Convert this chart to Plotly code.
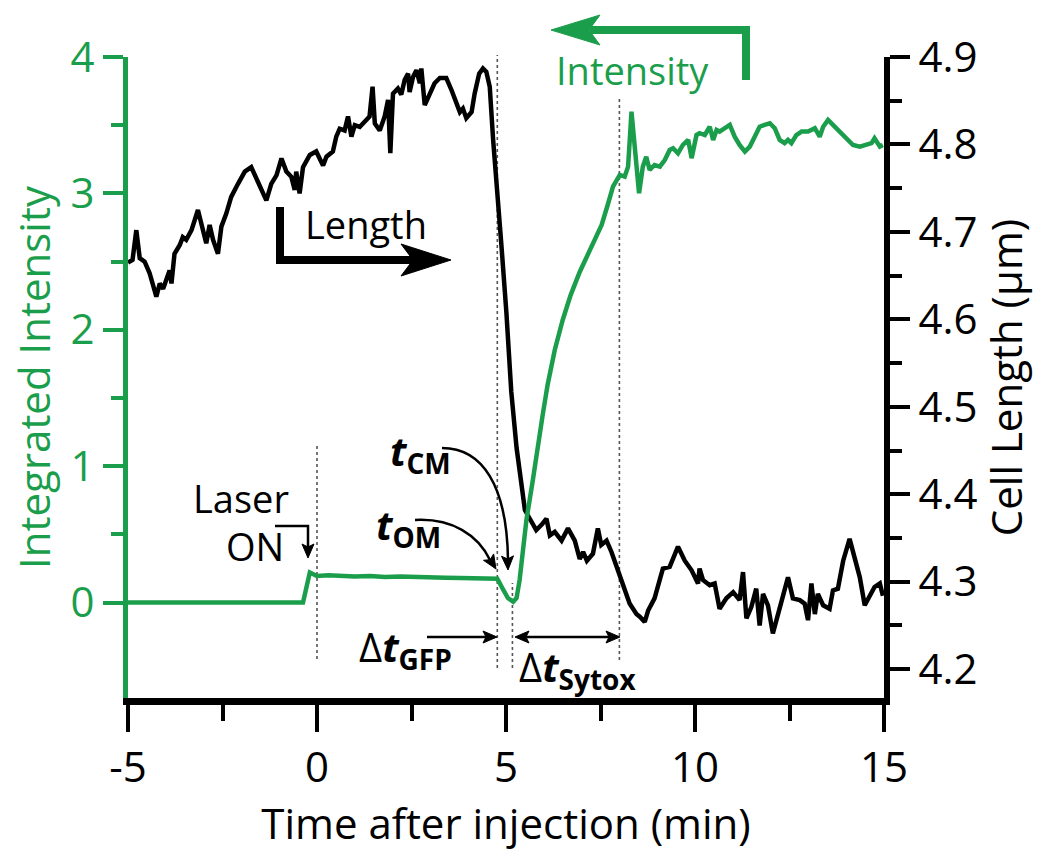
import math
import plotly.graph_objects as go

# ---------------- data ----------------
time_length = [-5.00, -4.88, -4.78, -4.69, -4.56, -4.43, -4.25, -4.16, -4.07, -3.98,
               -3.90, -3.85, -3.77, -3.63, -3.55, -3.46, -3.32, -3.15, -3.02, -2.93,
               -2.84, -2.75, -2.62, -2.53, -2.40, -2.27, -2.09, -1.91, -1.74, -1.60,
               -1.47, -1.34, -1.21, -1.07, -0.94, -0.81, -0.68, -0.59, -0.55, -0.46,
               -0.37, -0.19, -0.02, 0.16, 0.25, 0.42, 0.51, 0.60, 0.73, 0.82,
               0.91, 1.00, 1.13, 1.26, 1.39, 1.47, 1.53, 1.66, 1.79, 1.88,
               1.94, 2.01, 2.14, 2.23, 2.32, 2.41, 2.45, 2.54, 2.63, 2.72,
               2.76, 2.85, 2.98, 3.11, 3.25, 3.42, 3.56, 3.69, 3.78, 3.86,
               3.95, 4.09, 4.17, 4.29, 4.39, 4.48, 4.57, 4.66, 4.75, 4.88,
               5.01, 5.14, 5.28, 5.41, 5.50, 5.63, 5.80, 5.94, 6.07, 6.16,
               6.29, 6.47, 6.64, 6.82, 6.95, 7.04, 7.14, 7.30, 7.43, 7.52,
               7.66, 7.79, 7.92, 8.10, 8.27, 8.45, 8.54, 8.67, 8.76, 8.93,
               9.15, 9.33, 9.55, 9.73, 9.91, 10.08, 10.12, 10.21, 10.39, 10.52,
               10.65, 10.83, 11.01, 11.18, 11.27, 11.36, 11.49, 11.62, 11.71, 11.80,
               11.93, 12.06, 12.24, 12.46, 12.59, 12.77, 12.90, 12.99, 13.08, 13.17,
               13.25, 13.39, 13.56, 13.65, 13.78, 13.92, 14.09, 14.23, 14.36, 14.49,
               14.62, 14.75, 14.89, 14.97]
cell_length = [4.665, 4.668, 4.702, 4.670, 4.666, 4.653, 4.626, 4.641, 4.635, 4.645,
               4.656, 4.641, 4.675, 4.685, 4.694, 4.691, 4.702, 4.725, 4.702, 4.687,
               4.708, 4.691, 4.675, 4.706, 4.721, 4.740, 4.755, 4.769, 4.774, 4.761,
               4.748, 4.736, 4.755, 4.765, 4.784, 4.769, 4.763, 4.748, 4.769, 4.744,
               4.774, 4.788, 4.792, 4.776, 4.786, 4.792, 4.809, 4.818, 4.816, 4.832,
               4.809, 4.822, 4.820, 4.826, 4.832, 4.866, 4.824, 4.816, 4.832, 4.851,
               4.790, 4.858, 4.864, 4.857, 4.874, 4.881, 4.860, 4.877, 4.885, 4.870,
               4.887, 4.845, 4.857, 4.870, 4.876, 4.876, 4.862, 4.847, 4.837, 4.841,
               4.830, 4.837, 4.858, 4.881, 4.887, 4.883, 4.866, 4.805, 4.759, 4.684,
               4.608, 4.517, 4.453, 4.410, 4.382, 4.372, 4.359, 4.365, 4.372, 4.353,
               4.357, 4.347, 4.361, 4.347, 4.326, 4.334, 4.324, 4.332, 4.361, 4.342,
               4.347, 4.334, 4.317, 4.294, 4.275, 4.263, 4.260, 4.254, 4.267, 4.281,
               4.315, 4.317, 4.340, 4.324, 4.313, 4.298, 4.315, 4.302, 4.296, 4.298,
               4.269, 4.281, 4.288, 4.279, 4.311, 4.258, 4.271, 4.292, 4.250, 4.286,
               4.273, 4.241, 4.271, 4.305, 4.281, 4.279, 4.275, 4.256, 4.298, 4.263,
               4.286, 4.273, 4.269, 4.290, 4.292, 4.324, 4.349, 4.324, 4.305, 4.273,
               4.283, 4.294, 4.298, 4.284]

time_intensity = [-5.00, -0.37, -0.19, 0.00, 0.30, 0.60, 1.00, 1.40, 1.80, 2.20,
                  2.60, 3.00, 3.40, 3.80, 4.20, 4.60, 4.77, 4.93, 5.05, 5.19,
                  5.28, 5.36, 5.54, 5.71, 5.84, 5.97, 6.10, 6.29, 6.50, 6.71,
                  6.95, 7.16, 7.37, 7.53, 7.69, 7.83, 8.01, 8.14, 8.23, 8.32,
                  8.52, 8.62, 8.71, 8.80, 8.93, 9.07, 9.20, 9.33, 9.42, 9.55,
                  9.68, 9.82, 9.91, 10.04, 10.12, 10.26, 10.39, 10.48, 10.57, 10.65,
                  10.79, 10.92, 11.05, 11.18, 11.32, 11.45, 11.58, 11.71, 11.84, 11.98,
                  12.11, 12.24, 12.37, 12.46, 12.55, 12.68, 12.82, 12.99, 13.17, 13.30,
                  13.39, 13.52, 13.65, 13.83, 14.01, 14.18, 14.36, 14.53, 14.67, 14.75,
                  14.89, 14.97]
intensity = [0, 0, 0.22, 0.194, 0.20, 0.195, 0.19, 0.195, 0.188, 0.19,
             0.185, 0.188, 0.182, 0.18, 0.178, 0.175, 0.175, 0.092, 0.033, 0.006,
             0.033, 0.165, 0.605, 0.898, 1.155, 1.375, 1.595, 1.852, 2.072, 2.254,
             2.424, 2.548, 2.658, 2.768, 2.915, 3.049, 3.135, 3.123, 3.196, 3.599,
             3.001, 3.196, 3.269, 3.172, 3.208, 3.196, 3.245, 3.318, 3.331, 3.294,
             3.355, 3.392, 3.258, 3.428, 3.441, 3.428, 3.489, 3.392, 3.465, 3.453,
             3.478, 3.502, 3.416, 3.355, 3.306, 3.343, 3.416, 3.489, 3.502, 3.514,
             3.478, 3.392, 3.368, 3.392, 3.368, 3.428, 3.453, 3.453, 3.478, 3.416,
             3.489, 3.538, 3.502, 3.453, 3.404, 3.355, 3.343, 3.355, 3.368, 3.404,
             3.343, 3.355]

x_ticks = [-5, 0, 5, 10, 15]
x_tick_labels = ["-5", "0", "5", "10", "15"]
x_minor_ticks = [-2.5, 2.5, 7.5, 12.5]
intensity_ticks = [0, 1, 2, 3, 4]
intensity_minor_ticks = [0.5, 1.5, 2.5, 3.5]
length_ticks = [4.2, 4.3, 4.4, 4.5, 4.6, 4.7, 4.8, 4.9]
length_minor_ticks = [4.25, 4.35, 4.45, 4.55, 4.65, 4.75, 4.85]
event_times = [0.0, 4.77, 5.17, 8.0]   # Laser ON, t_OM, t_CM, Sytox

# ---------------- style ----------------
GREEN = "#1b9e4b"
BLACK = "#000000"
FONT = "Open Sans"
W, H = 1050, 859
ML, MR, MT, MB = 128, 166, 57, 161
PW, PH = W - ML - MR, H - MT - MB


def P(x, y):
    """pixel position -> paper coordinate string"""
    return f"{(x - ML) / PW:.5f},{(H - MB - y) / PH:.5f}"


def px(x):
    return (x - ML) / PW


def py(y):
    return (H - MB - y) / PH


def head(tx, ty, ang, length, half, notch):
    dx, dy = math.cos(ang), math.sin(ang)
    nx, ny = -dy, dx
    bx, by = tx - dx * length, ty - dy * length
    p1 = (bx + nx * half, by + ny * half)
    p2 = (tx - dx * (length - notch), ty - dy * (length - notch))
    p3 = (bx - nx * half, by - ny * half)
    return f"M {P(tx, ty)} L {P(*p1)} L {P(*p2)} L {P(*p3)} Z"


fig = go.Figure()
fig.add_trace(go.Scatter(x=time_length, y=cell_length, mode="lines",
                         line=dict(color=BLACK, width=4.5), yaxis="y",
                         name="Length", showlegend=False))
fig.add_trace(go.Scatter(x=time_intensity, y=intensity, mode="lines",
                         line=dict(color=GREEN, width=4.5), yaxis="y2",
                         name="Intensity", showlegend=False))

shapes = []
# dotted event lines
event_spans = [(443, 659), (55, 668), (583, 668), (98, 660)]
for t, (y0, y1) in zip(event_times, event_spans):
    shapes.append(dict(type="line", xref="x", yref="paper", x0=t, x1=t,
                       y0=py(y1), y1=py(y0),
                       line=dict(color="#555555", width=1.6, dash="dot"), layer="below"))


def path(d, color, width):
    shapes.append(dict(type="path", xref="paper", yref="paper", path=d,
                       line=dict(color=color, width=width)))


def filled(d, color):
    shapes.append(dict(type="path", xref="paper", yref="paper", path=d,
                       fillcolor=color, line=dict(color=color, width=1)))


# Length bent arrow
path(f"M {P(280, 207)} L {P(280, 260)} L {P(415, 260)}", BLACK, 8)
filled(head(451, 260, 0, 50, 16, 12), BLACK)
# Intensity bent arrow
path(f"M {P(746, 80)} L {P(746, 30)} L {P(590, 30)}", GREEN, 8)
filled(head(551, 30, math.pi, 49, 15, 11), GREEN)
# Laser ON arrow
path(f"M {P(275, 526)} L {P(308, 526)} L {P(308, 548)}", BLACK, 2.5)
filled(head(308, 558, math.pi / 2, 14, 6, 3), BLACK)
# t_CM arrow
path(f"M {P(442, 448)} C {P(482, 448)} {P(507, 485)} {P(508, 560)}", BLACK, 2.5)
filled(head(508, 570, math.radians(88), 14, 6, 3), BLACK)
# t_OM arrow
path(f"M {P(415, 520)} C {P(452, 518)} {P(478, 535)} {P(490, 560)}", BLACK, 2.5)
filled(head(496, 569, math.radians(58), 14, 6, 3), BLACK)
# Delta t GFP arrow
path(f"M {P(427, 637)} L {P(488, 637)}", BLACK, 2.5)
filled(head(497, 637, 0, 14, 6, 3), BLACK)
# Delta t Sytox double arrow
path(f"M {P(524, 637)} L {P(611, 637)}", BLACK, 2.5)
filled(head(515, 637, math.pi, 14, 6, 3), BLACK)
filled(head(620, 637, 0, 14, 6, 3), BLACK)

annotations = []


def text(x, y, s, size, color=BLACK, xanchor="center"):
    annotations.append(dict(x=px(x), y=py(y), xref="paper", yref="paper", text=s,
                            showarrow=False, xanchor=xanchor, yanchor="middle",
                            font=dict(family=FONT, size=size, color=color)))


text(632, 70, "Intensity", 38, GREEN)
text(366, 224, "Length", 38)
text(291, 498, "Laser", 38, xanchor="right")
text(286, 546, "ON", 38, xanchor="right")
text(420, 452, "<b><i>t</i></b><sub><b>CM</b></sub>", 40)
text(408, 526, "<b><i>t</i></b><sub><b>OM</b></sub>", 40)
text(405, 648, "Δ<b><i>t</i></b><sub><b>GFP</b></sub>", 40)
text(577, 668, "Δ<b><i>t</i></b><sub><b>Sytox</b></sub>", 40)

fig.update_layout(
    width=W, height=H,
    margin=dict(l=ML, r=MR, t=MT, b=MB, autoexpand=False),
    paper_bgcolor="white", plot_bgcolor="white",
    font=dict(family=FONT, size=42, color=BLACK),
    shapes=shapes, annotations=annotations,
    xaxis=dict(range=[-5, 15], tickvals=x_ticks, ticktext=x_tick_labels,
               ticks="outside", ticklen=27, tickwidth=4,
               tickcolor=BLACK, showline=True, linecolor=BLACK, linewidth=7,
               showgrid=False, zeroline=False, automargin=False,
               tickfont=dict(family=FONT, size=42, color=BLACK),
               minor=dict(tickvals=x_minor_ticks, ticks="outside", ticklen=16, tickwidth=4,
                          tickcolor=BLACK),
               title=dict(text="Time after injection (min)", standoff=12,
                          font=dict(family=FONT, size=42, color=BLACK))),
    yaxis=dict(range=[4.167, 4.9], side="right", tickvals=length_ticks, tickformat=".1f",
               ticks="outside", ticklen=20, tickwidth=4, tickcolor=BLACK,
               showline=True, linecolor=BLACK, linewidth=6, showgrid=False,
               zeroline=False, automargin=False,
               tickfont=dict(family=FONT, size=42, color=BLACK),
               minor=dict(tickvals=length_minor_ticks, ticks="outside", ticklen=12,
                          tickwidth=4, tickcolor=BLACK),
               title=dict(text="Cell Length (μm)", standoff=10,
                          font=dict(family=FONT, size=42, color=BLACK))),
    yaxis2=dict(range=[-0.70, 4.0], side="left", overlaying="y", tickvals=intensity_ticks,
                ticks="outside", ticklen=20, tickwidth=4, tickcolor=GREEN,
                showline=True, linecolor=GREEN, linewidth=5, showgrid=False,
                zeroline=False, automargin=False,
                tickfont=dict(family=FONT, size=42, color=GREEN),
                minor=dict(tickvals=intensity_minor_ticks, ticks="outside", ticklen=12,
                           tickwidth=4, tickcolor=GREEN),
                title=dict(text="Integrated Intensity", standoff=8,
                           font=dict(family=FONT, size=42, color=GREEN))),
)

fig.write_html("out.html", config={"displayModeBar": False},
               post_script="document.body.style.margin='0';")
